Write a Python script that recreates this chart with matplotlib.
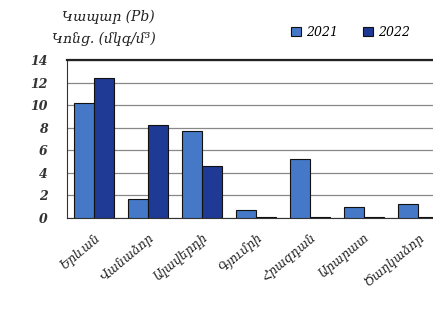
import matplotlib
matplotlib.use("Agg")
import matplotlib.pyplot as plt
import numpy as np

plt.rcParams['font.family'] = ['DejaVu Serif', 'DejaVu Sans']

cities = ["Երևան", "Վանաձոր", "Ալավերդի", "Գյումրի", "Հրազդան", "Արարատ", "Ծաղկաձոր"]
y2021 = [10.2, 1.7, 7.7, 0.7, 5.2, 0.95, 1.25]
y2022 = [12.4, 8.2, 4.6, 0.05, 0.05, 0.05, 0.05]
yticks = [0, 2, 4, 6, 8, 10, 12, 14]
title_lines = ["Կապար (Pb)", "Կոնց. (մկգ/մ³)"]

c2021 = "#4678c8"
c2022 = "#1f3a94"

fig = plt.figure(figsize=(4.33, 3.09), dpi=100)
ax = fig.add_axes([0.155, 0.2945, 0.873, 0.5113])

x = np.arange(len(cities))
w = 0.37
ax.bar(x - w/2, y2021, w, color=c2021, edgecolor="#111111", linewidth=0.8, label="2021", zorder=3)
ax.bar(x + w/2, y2022, w, color=c2022, edgecolor="#111111", linewidth=0.8, label="2022", zorder=3)

ax.set_xlim(-0.5, len(cities) - 0.5)
ax.set_ylim(0, 14)
ax.set_yticks(yticks)
ax.set_yticklabels([str(t) for t in yticks], fontstyle="italic", fontsize=9,
                   fontweight="bold", color="#333333")
ax.yaxis.grid(True, color="#888888", linewidth=0.9, zorder=0)
ax.set_axisbelow(True)
ax.tick_params(axis="y", length=0, pad=14)
ax.tick_params(axis="x", length=0, pad=9)
ax.set_xticks(x)
ax.set_xticklabels(cities, rotation=40, ha="right", rotation_mode="anchor",
                   fontstyle="italic", fontsize=9, color="#222222")

ax.spines["right"].set_visible(False)
ax.spines["top"].set_linewidth(1.6)
ax.spines["top"].set_color("#222222")
ax.spines["left"].set_color("#333333")
ax.spines["bottom"].set_color("#333333")

fig.text(0.25, 0.945, title_lines[0], ha="center", va="center", fontstyle="italic",
         fontsize=10, color="#222222")
fig.text(0.24, 0.875, title_lines[1], ha="center", va="center", fontstyle="italic",
         fontsize=10, color="#222222")

leg = fig.legend(loc="center", bbox_to_anchor=(0.81, 0.896), ncol=2, frameon=False,
                 handlelength=0.8, handleheight=0.8, handletextpad=0.4, columnspacing=2.0,
                 prop={"style": "italic", "size": 9})

fig.savefig("out.png", dpi=100)
